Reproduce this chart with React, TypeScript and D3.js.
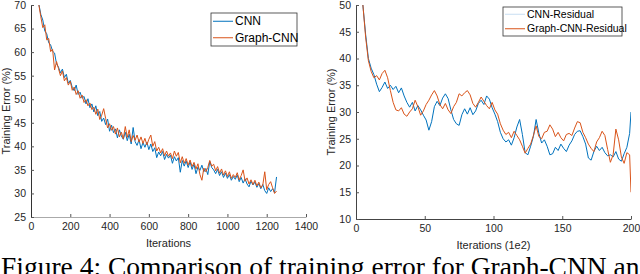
import * as d3 from "d3";
import React, { useEffect, useRef } from "react";

// left panel: iterations every 10 from 40 to 1250
const leftIters = d3.range(40, 1251, 10);
const cnn = [
  70.2, 68.0, 66.8, 64.5, 63.9, 62.0, 61.5, 60.2, 59.8, 57.5, 56.8, 55.6, 56.4, 54.6, 55.3, 53.4,
  54.0, 52.5, 51.8, 53.0, 51.0, 51.5, 50.2, 50.6, 49.0, 50.1, 48.2, 49.0, 47.3, 48.6, 46.5, 47.4,
  45.3, 46.0, 44.6, 45.8, 43.2, 44.5, 42.9, 43.7, 41.8, 43.5, 42.2, 41.5, 43.0, 41.2, 42.6, 40.5,
  44.0, 41.0, 40.2, 41.4, 39.5, 40.8, 39.8, 40.9, 39.3, 40.5, 38.9, 39.7, 37.6, 38.8, 38.0, 38.9,
  37.2, 38.3, 37.5, 38.1, 36.4, 37.8, 36.9, 37.6, 34.5, 37.0, 35.8, 36.9, 35.5, 36.7, 35.1, 36.2,
  34.2, 35.6, 34.9, 36.0, 34.6, 35.3, 34.0, 36.8, 35.5, 35.0, 34.2, 35.1, 33.8, 34.6, 33.4, 34.3,
  33.2, 34.0, 32.8, 33.6, 33.0, 33.9, 32.5, 33.4, 32.2, 33.1, 32.0, 31.4, 32.6, 31.8, 32.4, 31.3,
  32.1, 31.0, 31.9, 30.6, 30.0, 31.2, 30.4, 31.0, 30.2, 33.5,
];
const graphCnn = [
  70.0, 67.5, 65.2, 65.8, 62.6, 62.9, 60.1, 60.6, 56.2, 58.0, 56.5, 55.0, 56.0, 53.9, 54.6, 53.0,
  53.8, 51.9, 52.6, 51.0, 51.8, 50.2, 50.9, 49.3, 49.9, 48.6, 49.2, 47.8, 48.3, 46.8, 47.9, 45.7,
  46.6, 48.0, 45.9, 43.9, 44.8, 43.4, 44.2, 42.6, 43.9, 42.0, 43.0, 41.6, 44.2, 41.9, 43.5, 41.0,
  42.3, 41.3, 42.4, 40.9, 42.0, 40.6, 41.7, 40.3, 41.5, 42.4, 40.0, 41.0, 39.0, 39.8, 38.6, 39.5,
  38.0, 39.0, 37.9, 38.6, 37.4, 39.0, 37.9, 38.7, 36.5, 37.8, 36.4, 37.4, 36.0, 37.1, 35.7, 36.6,
  35.2, 36.3, 34.0, 32.8, 35.4, 34.6, 35.5, 37.0, 35.8, 36.2, 34.8, 35.7, 34.3, 35.2, 33.9, 34.8,
  33.6, 34.6, 33.2, 34.0, 33.4, 34.4, 32.9, 33.8, 35.0, 32.6, 33.3, 32.0, 32.9, 31.9, 32.8, 31.6,
  32.4, 31.2, 31.8, 34.6, 30.8, 31.9, 32.5, 31.2, 30.0, 30.5,
];

// right panel: iterations (1e2)
const rightIters = [...d3.range(5, 200, 2), 200];
const cnnRes = [
  50.0, 44.5, 40.0, 38.2, 37.0, 35.2, 33.8, 34.6, 35.6, 34.4, 35.0, 34.2, 34.8, 33.6, 34.5, 33.0,
  31.8, 30.9, 31.8, 30.2, 31.2, 30.4, 29.4, 28.5, 26.6, 28.2, 31.0, 32.0, 31.2, 32.6, 33.4, 32.5,
  30.4, 28.6, 27.8, 27.5, 29.5, 30.6, 29.6, 30.8, 29.5, 30.2, 31.6, 32.2, 31.4, 33.0, 32.4, 30.8,
  29.6, 28.2, 26.2, 25.0, 24.4, 24.8, 23.8, 25.2, 27.2, 28.6, 25.8, 22.4, 22.0, 23.6, 25.4, 28.6,
  26.0, 24.2, 24.8, 23.6, 22.0, 22.2, 23.4, 22.8, 24.0, 23.2, 22.6, 23.8, 24.6, 25.8, 26.4, 26.5,
  25.4, 24.0, 21.4, 21.0, 22.6, 23.6, 22.8, 23.4, 22.4, 21.8, 22.0, 21.6, 22.6, 21.2, 20.8, 22.2,
  23.4, 26.0, 30.0,
];
const graphCnnRes = [
  50.0, 44.0, 39.6, 37.6, 36.4, 36.8, 36.0, 37.2, 37.8, 36.4, 34.0, 31.8, 30.4, 30.2, 30.8, 29.6,
  29.2, 30.0, 30.6, 32.2, 31.0, 29.4, 30.2, 31.4, 32.2, 33.2, 34.0, 33.0, 31.4, 30.6, 31.6, 30.4,
  29.7, 31.0, 31.8, 33.4, 33.0, 33.6, 34.0, 33.2, 31.6, 30.9, 31.8, 32.8, 32.0, 31.2, 30.6, 31.8,
  30.4, 29.6, 27.8, 26.6, 25.8, 26.2, 25.2, 26.4, 25.6, 24.8, 23.6, 22.3, 23.2, 24.0, 25.6, 27.4,
  25.4, 25.0, 26.2, 26.4, 27.6, 26.8, 25.4, 26.2, 25.2, 24.6, 25.8, 26.0, 25.6, 27.0, 28.2, 28.0,
  26.2, 25.2, 24.0, 23.2, 22.6, 24.4, 25.2, 26.4, 25.6, 23.0, 20.6, 22.0, 26.8, 24.8, 21.6, 20.4,
  22.4, 22.0, 15.0,
];

const leftXTicks = [0, 200, 400, 600, 800, 1000, 1200, 1400];
const leftYTicks = [25, 30, 35, 40, 45, 50, 55, 60, 65, 70];
const rightXTicks = [0, 50, 100, 150, 200];
const rightYTicks = [10, 15, 20, 25, 30, 35, 40, 45, 50];

const BLUE = "#0072BD";
const RED = "#D95319";
const FONT = "Liberation Sans, Arial, sans-serif";

function drawPanel(svg, opts) {
  const { x0, x1, y0, y1, xDomain, yDomain, xTicks, yTicks, series, xLabel, yLabelX, xAxisColor, yAxisColor, legend } = opts;
  const x = d3.scaleLinear().domain(xDomain).range([x0, x1]);
  const y = d3.scaleLinear().domain(yDomain).range([y1, y0]);
  const g = svg.append("g");

  const clipId = "clip" + Math.round(x0);
  g.append("clipPath").attr("id", clipId).append("rect")
    .attr("x", x0).attr("y", y0).attr("width", x1 - x0).attr("height", y1 - y0);

  const line = d3.line().x((d) => x(d[0])).y((d) => y(d[1]));
  series.forEach((s) => {
    g.append("path")
      .datum(s.xs.map((v, i) => [v, s.ys[i]]))
      .attr("clip-path", `url(#${clipId})`)
      .attr("fill", "none")
      .attr("stroke", s.color)
      .attr("stroke-width", 1)
      .attr("stroke-linejoin", "round")
      .attr("d", line);
  });

  const xAxis = g.append("g").attr("transform", `translate(0,${y1})`)
    .call(d3.axisBottom(x).tickValues(xTicks).tickFormat(d3.format("d")).tickSizeInner(-3).tickSizeOuter(0).tickPadding(6));
  xAxis.select(".domain").attr("stroke", xAxisColor);
  xAxis.selectAll(".tick line").attr("stroke", "#555");
  xAxis.selectAll("text").attr("fill", "#262626").style("font-family", FONT).style("font-size", "10.5px");

  const yAxis = g.append("g").attr("transform", `translate(${x0},0)`)
    .call(d3.axisLeft(y).tickValues(yTicks).tickFormat(d3.format("d")).tickSizeInner(-3).tickSizeOuter(0).tickPadding(5));
  yAxis.select(".domain").attr("stroke", yAxisColor);
  yAxis.selectAll(".tick line").attr("stroke", "#555");
  yAxis.selectAll("text").attr("fill", "#262626").style("font-family", FONT).style("font-size", "10.5px");

  g.append("text")
    .attr("x", (x0 + x1) / 2).attr("y", y1 + 30)
    .attr("text-anchor", "middle")
    .style("font-family", FONT).style("font-size", "11px").attr("fill", "#262626")
    .text(xLabel);
  g.append("text")
    .attr("transform", `translate(${yLabelX},${(y0 + y1) / 2}) rotate(-90)`)
    .attr("text-anchor", "middle")
    .style("font-family", FONT).style("font-size", "11px").attr("fill", "#262626")
    .text("Training Error (%)");

  // legend
  const lg = g.append("g");
  lg.append("rect")
    .attr("x", legend.x).attr("y", legend.y).attr("width", legend.w).attr("height", legend.h)
    .attr("fill", "white").attr("stroke", "#333").attr("stroke-width", 0.8);
  legend.items.forEach((it, i) => {
    const ly = legend.y + legend.h * (i * 2 + 1) / 4;
    lg.append("line")
      .attr("x1", legend.x + 2).attr("x2", legend.x + 22).attr("y1", ly).attr("y2", ly)
      .attr("stroke", it.color).attr("stroke-width", 1);
    lg.append("text")
      .attr("x", legend.x + 24).attr("y", ly).attr("dy", "0.35em")
      .style("font-family", FONT).style("font-size", legend.fontSize).attr("fill", "#000")
      .text(it.label);
  });
}

export default function App() {
  const svgRef = useRef(null);

  useEffect(() => {
    const svg = d3.select(svgRef.current);
    svg.selectAll("*").remove();

    drawPanel(svg, {
      x0: 31, x1: 306, y0: 5, y1: 217,
      xDomain: [0, 1400], yDomain: [25, 70],
      xTicks: leftXTicks, yTicks: leftYTicks,
      series: [
        { xs: leftIters, ys: cnn, color: BLUE },
        { xs: leftIters, ys: graphCnn, color: RED },
      ],
      xLabel: "Iterations", yLabelX: 10,
      xAxisColor: "#aaa", yAxisColor: "#333",
      legend: {
        x: 211, y: 13, w: 86, h: 33, fontSize: "12px",
        items: [{ label: "CNN", color: BLUE }, { label: "Graph-CNN", color: RED }],
      },
    });

    drawPanel(svg, {
      x0: 356, x1: 631, y0: 5, y1: 219,
      xDomain: [0, 200], yDomain: [10, 50],
      xTicks: rightXTicks, yTicks: rightYTicks,
      series: [
        { xs: rightIters, ys: cnnRes, color: BLUE },
        { xs: rightIters, ys: graphCnnRes, color: RED },
      ],
      xLabel: "Iterations (1e2)", yLabelX: 335,
      xAxisColor: "#444", yAxisColor: "#444",
      legend: {
        x: 503, y: 7, w: 119, h: 29, fontSize: "10.5px",
        items: [{ label: "CNN-Residual", color: "#c8def2" }, { label: "Graph-CNN-Residual", color: RED }],
      },
    });

    // figure caption (cut off by the page edge, as in the source)
    svg.append("text")
      .attr("x", 1).attr("y", 276)
      .style("font-family", "Liberation Serif, Times New Roman, serif")
      .style("font-size", "27.5px").attr("fill", "#000")
      .text("Figure 4:  Comparison of training error for Graph-CNN and");
  }, []);

  return (
    <svg
      ref={svgRef}
      width={640}
      height={274}
      style={{ position: "absolute", left: 0, top: 0, background: "white" }}
    />
  );
}
